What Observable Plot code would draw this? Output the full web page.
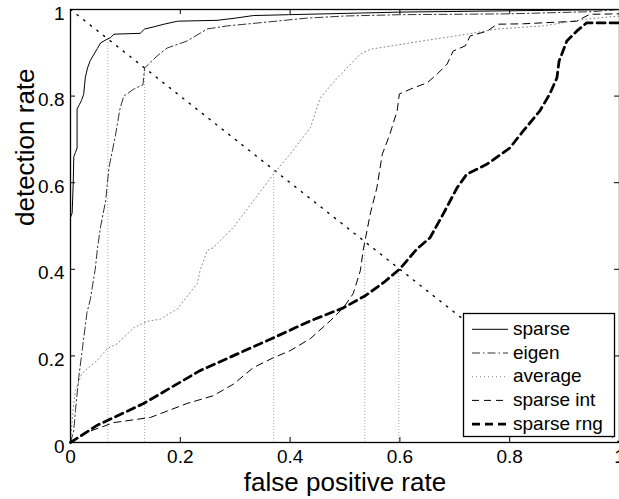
<!DOCTYPE html>
<html>
<head>
<meta charset="utf-8">
<script src="https://cdn.jsdelivr.net/npm/d3@7"></script>
<script src="https://cdn.jsdelivr.net/npm/@observablehq/plot@0.6"></script>
<style>
  html, body { margin: 0; padding: 0; background: #fff; }
  #chart svg { display: block; font-family: "Liberation Sans", Arial, Helvetica, sans-serif; }
</style>
</head>
<body>
<div id="chart"></div>
<script>
// ---- data ----
const seriesNames = ["sparse", "eigen", "average", "sparse int", "sparse rng"];

const sparseX = [0, 0, 0.003, 0.005, 0.006, 0.009, 0.012, 0.012, 0.016, 0.020, 0.024, 0.027, 0.031, 0.036, 0.042, 0.049, 0.055, 0.066, 0.073, 0.079, 0.127, 0.135, 0.152, 0.170, 0.195, 0.267, 0.300, 0.333, 0.397, 0.500, 0.600, 0.800, 1.0];
const sparseY = [0, 0.52, 0.53, 0.60, 0.66, 0.67, 0.68, 0.77, 0.78, 0.79, 0.804, 0.843, 0.865, 0.882, 0.895, 0.910, 0.923, 0.931, 0.935, 0.943, 0.945, 0.955, 0.960, 0.966, 0.973, 0.975, 0.980, 0.986, 0.988, 0.991, 0.994, 0.997, 1.0];

const eigenX = [0, 0.006, 0.009, 0.015, 0.021, 0.030, 0.036, 0.045, 0.049, 0.055, 0.064, 0.070, 0.082, 0.090, 0.097, 0.115, 0.132, 0.135, 0.158, 0.176, 0.212, 0.249, 0.285, 0.358, 0.430, 0.500, 0.600, 0.800, 0.950, 1.0];
const eigenY = [0, 0.028, 0.074, 0.150, 0.210, 0.300, 0.330, 0.400, 0.447, 0.500, 0.558, 0.634, 0.710, 0.770, 0.800, 0.816, 0.826, 0.865, 0.893, 0.911, 0.927, 0.955, 0.962, 0.971, 0.980, 0.985, 0.988, 0.990, 0.995, 1.0];

const averageX = [0, 0.005, 0.009, 0.021, 0.049, 0.067, 0.085, 0.115, 0.140, 0.164, 0.195, 0.231, 0.236, 0.249, 0.260, 0.297, 0.333, 0.370, 0.400, 0.437, 0.455, 0.486, 0.528, 0.546, 0.619, 0.722, 0.777, 0.860, 0.940, 1.0];
const averageY = [0, 0.080, 0.120, 0.160, 0.190, 0.217, 0.228, 0.265, 0.280, 0.285, 0.309, 0.367, 0.397, 0.443, 0.450, 0.497, 0.558, 0.620, 0.666, 0.727, 0.796, 0.842, 0.897, 0.908, 0.923, 0.943, 0.955, 0.962, 0.978, 0.985];

const sparseIntX = [0, 0.031, 0.079, 0.146, 0.212, 0.260, 0.297, 0.333, 0.370, 0.400, 0.437, 0.473, 0.497, 0.515, 0.528, 0.533, 0.546, 0.558, 0.568, 0.582, 0.595, 0.599, 0.619, 0.650, 0.668, 0.686, 0.697, 0.719, 0.728, 0.759, 0.777, 0.825, 0.922, 0.946, 1.0];
const sparseIntY = [0, 0.024, 0.046, 0.058, 0.090, 0.108, 0.135, 0.173, 0.196, 0.212, 0.240, 0.281, 0.311, 0.344, 0.397, 0.443, 0.528, 0.588, 0.666, 0.713, 0.766, 0.805, 0.816, 0.831, 0.851, 0.874, 0.904, 0.916, 0.939, 0.950, 0.966, 0.967, 0.973, 0.989, 0.990];

const sparseRngX = [0, 0.049, 0.133, 0.236, 0.370, 0.437, 0.497, 0.537, 0.570, 0.600, 0.631, 0.655, 0.679, 0.704, 0.722, 0.759, 0.800, 0.825, 0.855, 0.873, 0.886, 0.890, 0.904, 0.922, 0.940, 1.0];
const sparseRngY = [0, 0.040, 0.090, 0.166, 0.242, 0.281, 0.311, 0.339, 0.369, 0.401, 0.447, 0.473, 0.528, 0.588, 0.620, 0.643, 0.680, 0.720, 0.766, 0.805, 0.842, 0.881, 0.927, 0.950, 0.969, 0.969];

// equal-error diagonal and the vertical drop lines at each EER point
const diagX = [0, 1];
const diagY = [1, 0];
const eerX = [0.068, 0.135, 0.370, 0.536, 0.598];
const eerY = [0.932, 0.865, 0.630, 0.464, 0.402];

const xTicks = [0, 0.2, 0.4, 0.6, 0.8, 1];
const yTicks = [0, 0.2, 0.4, 0.6, 0.8, 1];
const xLabel = "false positive rate";
const yLabel = "detection rate";

// ---- build tables ----
const toPts = (xs, ys) => xs.map((x, i) => ({x, y: ys[i]}));
const styles = [
  {name: "sparse",     stroke: "#000", width: 1,   dash: null},
  {name: "eigen",      stroke: "#333", width: 1,   dash: "8,3,1.5,3"},
  {name: "average",    stroke: "#888", width: 1,   dash: "1,3"},
  {name: "sparse int", stroke: "#000", width: 1,   dash: "7,5"},
  {name: "sparse rng", stroke: "#000", width: 2.8, dash: "8,5"}
];
const seriesData = [
  toPts(sparseX, sparseY),
  toPts(eigenX, eigenY),
  toPts(averageX, averageY),
  toPts(sparseIntX, sparseIntY),
  toPts(sparseRngX, sparseRngY)
];
const eer = eerX.map((x, i) => ({x, y: eerY[i]}));

const W = 619, H = 499;
const mL = 70, mR = 0, mT = 9, mB = 57;
const innerW = W - mL - mR, innerH = H - mT - mB;
const font = "Liberation Sans, Arial, Helvetica, sans-serif";

const marks = [
  // EER drop lines
  Plot.ruleX(eer, {x: "x", y1: 0, y2: "y", stroke: "#aaa", strokeWidth: 1, strokeDasharray: "1,2"}),
  // diagonal
  Plot.line(toPts(diagX, diagY), {x: "x", y: "y", stroke: "#000", strokeWidth: 1.4, strokeDasharray: "1.4,7"}),
];
// ROC curves: draw average first (lightest), then others
[2, 1, 3, 4, 0].forEach(i => {
  const s = styles[i];
  marks.push(Plot.line(seriesData[i], {x: "x", y: "y", stroke: s.stroke, strokeWidth: s.width, strokeDasharray: s.dash, strokeLinejoin: "round"}));
});
marks.push(
  Plot.frame({stroke: "#000", strokeWidth: 1.3}),
  // inward ticks on all four sides
  Plot.ruleX(xTicks, {x: d => d, insetTop: innerH - 5, stroke: "#000"}),
  Plot.ruleX(xTicks, {x: d => d, insetBottom: innerH - 5, stroke: "#000"}),
  Plot.ruleY(yTicks, {y: d => d, insetRight: innerW - 5, stroke: "#000"}),
  Plot.ruleY(yTicks, {y: d => d, insetLeft: innerW - 5, stroke: "#000"}),
  Plot.axisX(xTicks, {tickSize: 0, tickPadding: 7, fontSize: 19, label: null, tickFormat: d3.format("~g")}),
  Plot.axisY(yTicks, {tickSize: 0, tickPadding: 6, fontSize: 19, label: null, dy: 4, tickFormat: d3.format("~g")}),
  Plot.text([xLabel], {text: d => d, frameAnchor: "bottom", lineAnchor: "middle", dy: 40, fontSize: 26, fill: "#000"}),
  Plot.text([yLabel], {text: d => d, frameAnchor: "left", lineAnchor: "middle", dx: -45, rotate: -90, fontSize: 26, fill: "#000"})
);

const chart = Plot.plot({
  width: W, height: H,
  marginLeft: mL, marginRight: mR, marginTop: mT, marginBottom: mB,
  style: {fontFamily: font, background: "#fff", color: "#000", overflow: "visible"},
  x: {domain: [0, 1], axis: null},
  y: {domain: [0, 1], axis: null},
  marks
});
document.getElementById("chart").appendChild(chart);

// ---- legend (boxed, lower right) ----
const svg = d3.select(chart);
const lg = svg.append("g").attr("font-family", font).attr("font-size", 19).attr("text-anchor", "start");
const bx = 463, by = 313, bw = 151, bh = 123;
lg.append("rect").attr("x", bx + 0.5).attr("y", by + 0.5).attr("width", bw).attr("height", bh)
  .attr("fill", "#fff").attr("stroke", "#000").attr("stroke-width", 1.3);
styles.forEach((s, i) => {
  const yy = 329.3 + i * 23.7;
  lg.append("line").attr("x1", 472).attr("x2", 508).attr("y1", yy).attr("y2", yy)
    .attr("stroke", s.stroke).attr("stroke-width", s.width)
    .attr("stroke-dasharray", s.dash);
  lg.append("text").attr("x", 513).attr("y", yy + 5.5).attr("fill", "#000")
    .attr("text-anchor", "start").text(seriesNames[i]);
});
</script>
</body>
</html>
